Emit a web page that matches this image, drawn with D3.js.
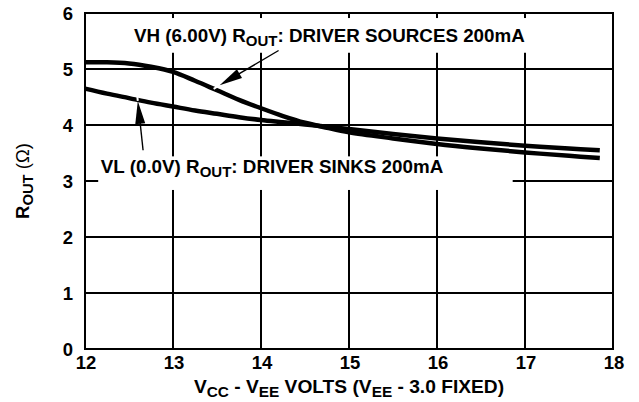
<!DOCTYPE html>
<html>
<head>
<meta charset="utf-8">
<script src="https://cdn.jsdelivr.net/npm/d3@7/dist/d3.min.js"></script>
<style>
  body { margin: 0; background: #fff; }
  text { font-family: "Liberation Sans", Arial, Helvetica, sans-serif; font-weight: bold; fill: #000; }
</style>
</head>
<body>
<div id="chart"></div>
<script>
// supply voltage (V), x axis
var vcc = [12, 12.25, 12.5, 12.75, 13, 13.25, 13.5, 13.75, 14, 14.25, 14.5, 14.75, 15, 15.5, 16, 16.5, 17, 17.5, 17.85];
// VH Rout, driver sources 200mA
var vhRout = [5.12, 5.12, 5.1, 5.04, 4.95, 4.79, 4.62, 4.45, 4.3, 4.16, 4.04, 3.95, 3.87, 3.76, 3.66, 3.58, 3.51, 3.45, 3.41];
// VL Rout, driver sinks 200mA
var vlRout = [4.65, 4.56, 4.48, 4.4, 4.33, 4.26, 4.2, 4.14, 4.09, 4.05, 4.01, 3.97, 3.93, 3.84, 3.76, 3.69, 3.63, 3.58, 3.55];
var xTicks = [12, 13, 14, 15, 16, 17, 18];
var yTicks = [0, 1, 2, 3, 4, 5, 6];

var W = 639, H = 402;
var svg = d3.select("#chart").append("svg").attr("width", W).attr("height", H);

var x = d3.scaleLinear().domain([12, 18]).range([85, 613]);
var y = d3.scaleLinear().domain([0, 6]).range([349, 13]);

// grid
svg.append("g").selectAll("line").data(xTicks).enter().append("line")
    .attr("x1", function (d) { return x(d); }).attr("x2", function (d) { return x(d); })
    .attr("y1", y(0)).attr("y2", y(6))
    .attr("stroke", "#000").attr("stroke-width", 2);
svg.append("g").selectAll("line").data(yTicks).enter().append("line")
    .attr("x1", x(12)).attr("x2", x(18))
    .attr("y1", function (d) { return y(d); }).attr("y2", function (d) { return y(d); })
    .attr("stroke", "#000").attr("stroke-width", 2);

// white boxes behind the labels
svg.append("rect").attr("x", x(12.45)).attr("y", y(5.91))
    .attr("width", x(17.25) - x(12.45)).attr("height", y(5.29) - y(5.91)).attr("fill", "#fff");
svg.append("rect").attr("x", x(12.15)).attr("y", y(3.44))
    .attr("width", x(16.86) - x(12.15)).attr("height", y(2.84) - y(3.44)).attr("fill", "#fff");

// border
svg.append("rect").attr("x", x(12)).attr("y", y(6))
    .attr("width", x(18) - x(12)).attr("height", y(0) - y(6))
    .attr("fill", "none").attr("stroke", "#000").attr("stroke-width", 2);

// curves
var line = d3.line()
    .x(function (d) { return x(d[0]); })
    .y(function (d) { return y(d[1]); })
    .curve(d3.curveCatmullRom);
[vhRout, vlRout].forEach(function (s) {
    svg.append("path")
        .datum(vcc.map(function (v, i) { return [v, s[i]]; }))
        .attr("d", line)
        .attr("fill", "none").attr("stroke", "#000").attr("stroke-width", 4.5);
});

// arrows
function arrow(x1, y1, x2, y2) {
    var ax = x(x1), ay = y(y1), bx = x(x2), by = y(y2);
    var dx = bx - ax, dy = by - ay, len = Math.sqrt(dx * dx + dy * dy);
    var ux = dx / len, uy = dy / len;
    // little white gap cut into the curve at the tip
    svg.append("line").attr("x1", bx).attr("y1", by)
        .attr("x2", bx + ux * 7).attr("y2", by + uy * 7)
        .attr("stroke", "#fff").attr("stroke-width", 2);
    svg.append("line").attr("x1", ax).attr("y1", ay)
        .attr("x2", bx - ux * 10).attr("y2", by - uy * 10)
        .attr("stroke", "#000").attr("stroke-width", 1.4);
    var hl = 23, hw = 5;
    var p = [[bx, by],
        [bx - ux * hl - uy * hw, by - uy * hl + ux * hw],
        [bx - ux * hl + uy * hw, by - uy * hl - ux * hw]];
    svg.append("path").attr("d", "M" + p.join("L") + "Z").attr("fill", "#000");
}
arrow(14.2, 5.33, 13.53, 4.71);
arrow(12.66, 3.55, 12.6, 4.43);

// label with subscript helper
function subText(g, parts) {
    parts.forEach(function (p) {
        var t = g.append("tspan").text(p[0]);
        if (p[1] === "sub") t.attr("font-size", "0.8em").attr("dy", 4);
        else if (p[1] === "up") t.attr("dy", -4);
        if (p[2]) t.attr("font-weight", "normal");
    });
}

var t1 = svg.append("text").attr("x", x(12.557)).attr("y", y(5.48)).attr("font-size", 18.8);
subText(t1, [["VH (6.00V) R"], ["OUT", "sub"], [": DRIVER SOURCES 200mA", "up"]]);
var t2 = svg.append("text").attr("x", x(12.18)).attr("y", y(3.14)).attr("font-size", 18.8);
subText(t2, [["VL (0.0V) R"], ["OUT", "sub"], [": DRIVER SINKS 200mA", "up"]]);

// tick labels
svg.append("g").selectAll("text").data(xTicks).enter().append("text")
    .attr("x", function (d) { return x(d) + 1; }).attr("y", 369)
    .attr("text-anchor", "middle").attr("font-size", 18.5)
    .text(function (d) { return d; });
svg.append("g").selectAll("text").data(yTicks).enter().append("text")
    .attr("x", 73).attr("y", function (d) { return y(d) + 6.5; })
    .attr("text-anchor", "end").attr("font-size", 18.5)
    .text(function (d) { return d; });

// axis titles
var xt = svg.append("text").attr("x", x(15)).attr("y", 393)
    .attr("text-anchor", "middle").attr("font-size", 19.2);
subText(xt, [["V"], ["CC", "sub"], [" - V", "up"], ["EE", "sub"], [" VOLTS (V", "up"], ["EE", "sub"], [" - 3.0 FIXED)", "up"]]);

var yt = svg.append("text").attr("transform", "translate(29," + y(3) + ") rotate(-90)")
    .attr("text-anchor", "middle").attr("font-size", 18.5);
subText(yt, [["R"], ["OUT", "sub"], [" (", "up", true], ["Ω", null, true], [")", null, true]]);
</script>
</body>
</html>
